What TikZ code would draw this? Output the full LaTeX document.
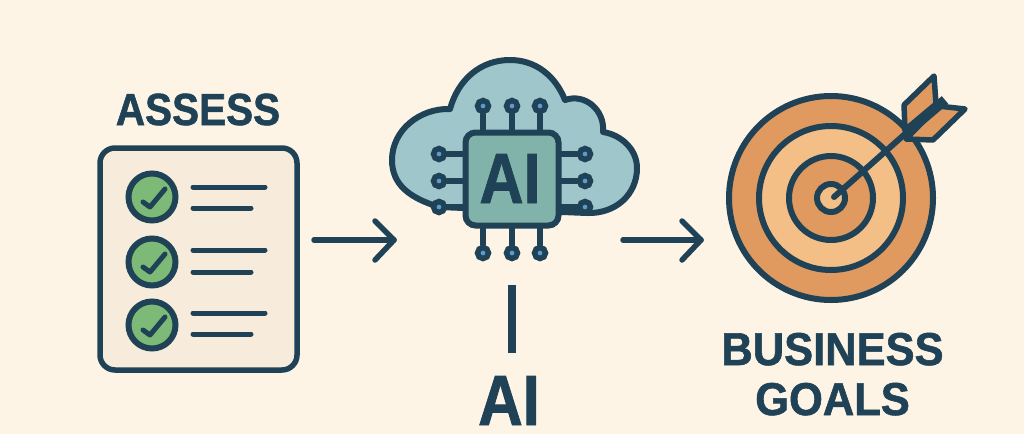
\documentclass[tikz,border=0pt]{standalone}
\usepackage{fontspec}
\setmainfont{Liberation Sans}[BoldFeatures={FakeBold=1.3}]
\definecolor{ink}{HTML}{1F4256}
\definecolor{paper}{HTML}{FDF4E6}
\definecolor{sheet}{HTML}{F7ECDC}
\definecolor{cloudfill}{HTML}{9FC6CA}
\definecolor{chipfill}{HTML}{82B3AB}
\definecolor{okgreen}{HTML}{7DB977}
\definecolor{ringdark}{HTML}{E0995F}
\definecolor{ringlight}{HTML}{F4BF87}
\definecolor{pinblue}{HTML}{5B9BD0}
\tikzset{
  x=1pt,y=-1pt,
  inkline/.style={draw=ink,line width=#1,line cap=round,line join=round},
  inkline/.default=6pt,
  flow/.style={inkline=5.5pt},
  label/.style={text=ink,font=\bfseries\fontsize{#1}{#1}\selectfont,inner sep=0pt,anchor=base},
  textrow/.style={inkline=5pt},
  tick/.style={inkline=5pt},
  pin/.style={circle,draw=ink,line width=5.5pt,fill=pinblue,minimum size=11pt,inner sep=0pt},
  okdot/.style={circle,draw=ink,line width=6pt,fill=okgreen,minimum size=47pt,inner sep=0pt},
}
\begin{document}
\begin{tikzpicture}
\useasboundingbox (0,0) rectangle (1024,434);
\fill[paper] (0,0) rectangle (1024,434);
% labels
\node[label=45,xscale=.9] (assess) at (198,125) {ASSESS};
\node[label=46,xscale=.945] (business) at (832.5,365) {BUSINESS};
\node[label=46,xscale=.945] (goals) at (832.5,415) {GOALS};
\node[label=71,xscale=.87] (ailabel) at (509,425) {AI};
% checklist
\draw[inkline=5.5pt,fill=sheet,rounded corners=15pt] (100,148) rectangle (297,370);
\foreach \n/\cy/\la/\lb in {1/197/187/208,2/262/250/272,3/325/313/334}{
  \node[okdot] (dot\n) at (152,\cy) {};
  \draw[tick] (143,\cy+5) -- (150,\cy+10) -- (165,\cy-8);
  \draw[textrow] (193,\la) -- (265,\la);
  \draw[textrow] (193,\lb) -- (251,\lb);
}
% cloud
\draw[inkline,fill=cloudfill]
  (439,207) .. controls (410,198) and (392,185) .. (392,160)
  .. controls (392,130) and (420,108) .. (450,109)
  .. controls (458,80) and (480,60) .. (510,60)
  .. controls (535,60) and (555,75) .. (565,100)
  .. controls (585,93) and (605,110) .. (603,132)
  .. controls (622,135) and (637,150) .. (637,168)
  .. controls (637,195) and (615,214) .. (587,213) -- cycle;
% chip pins
\foreach \n/\px in {1/483,2/512,3/540}{
  \node[pin] (t\n) at (\px,106) {};
  \node[pin] (b\n) at (\px,253) {};
}
\foreach \n/\py in {1/154,2/181,3/207}{
  \node[pin] (l\n) at (439,\py) {};
  \node[pin] (r\n) at (585,\py) {};
}
\node[draw=ink,line width=6pt,fill=chipfill,rounded corners=10pt,minimum width=93pt,minimum height=93pt,inner sep=0pt] (chip) at (512,179) {};
\node[label=71,xscale=.86] (chiplabel) at (510,203) {AI};
\foreach \n in {1,2,3}{
  \draw[inkline] (t\n) -- (t\n |- chip.north);
  \draw[inkline] (b\n) -- (b\n |- chip.south);
  \draw[inkline] (l\n) -- (l\n -| chip.west);
  \draw[inkline] (r\n) -- (r\n -| chip.east);
}
% target
\coordinate (bull) at (831,198);
\draw[inkline,fill=ringdark] (bull) circle (102pt);
\draw[inkline,fill=ringlight] (bull) circle (72pt);
\draw[inkline,fill=ringdark] (bull) circle (42pt);
\draw[inkline,fill=ringlight] (bull) circle (14pt);
% arrow in target
\draw[inkline=5.5pt,fill=ringdark] (904,105) -- (934,76) -- (936,104) -- (905,130) -- cycle;
\draw[inkline=5.5pt,fill=ringdark] (965,109) -- (933,140) -- (906,139) -- (938,106) -- cycle;
\coordinate (shaftend) at (945,100);
\coordinate (shaftmid) at (905,134);
\draw[inkline=6pt] (834,197) -- (shaftmid);
\draw[inkline=10pt,line cap=butt] (shaftmid) -- (shaftend);
% flow
\coordinate (a1s) at (314,240); \coordinate (a1e) at (394,240);
\coordinate (a2s) at (623,240); \coordinate (a2e) at (701,240);
\coordinate (v1) at (512,285); \coordinate (v2) at (512,353);
\draw[flow] (a1s) -- (a1e);
\draw[flow] (375,221) -- (a1e) -- (375,260);
\draw[flow] (a2s) -- (a2e);
\draw[flow] (682,221) -- (a2e) -- (682,260);
\draw[inkline=8.5pt,line cap=butt] (v1) -- (v2);
\end{tikzpicture}
\end{document}
